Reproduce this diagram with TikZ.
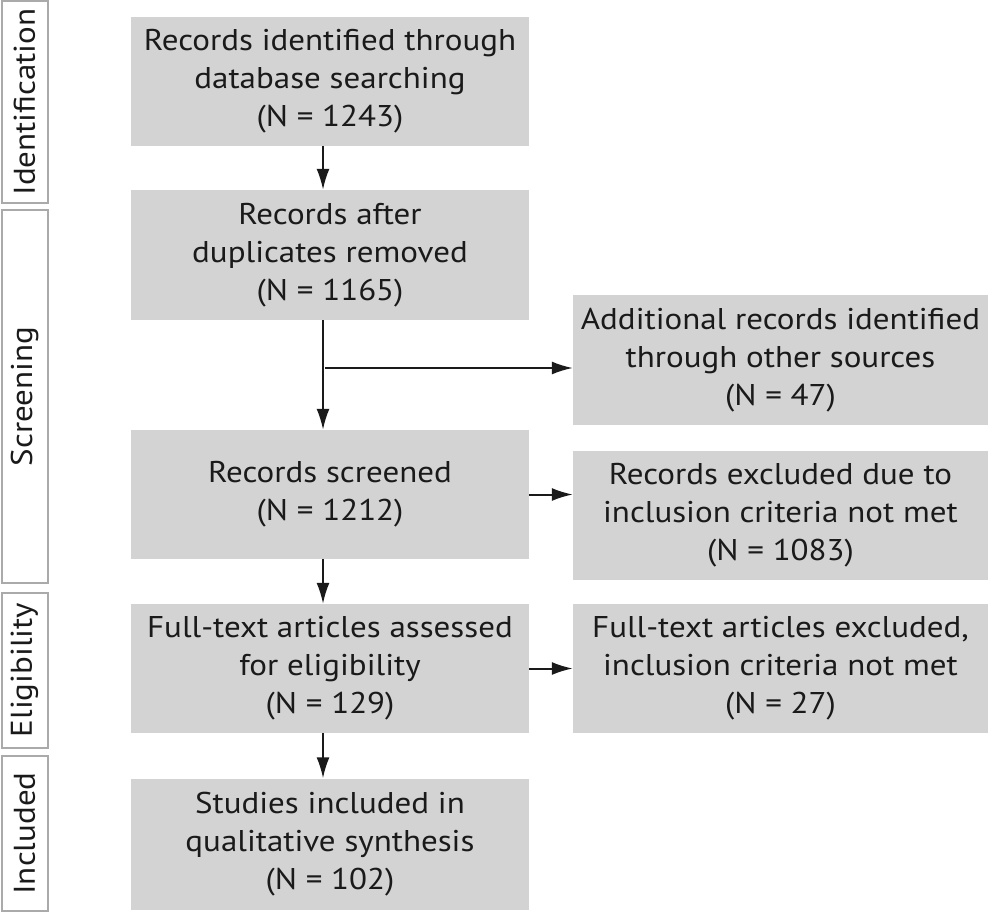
\documentclass[tikz,border=0pt]{standalone}
\usepackage{fontspec}
\setmainfont{PT Sans}[FakeStretch=1.1]
\usetikzlibrary{arrows.meta}
\definecolor{boxgray}{RGB}{211,211,211}
\definecolor{stageedge}{RGB}{170,170,170}
\definecolor{ink}{RGB}{26,26,26}
\tikzset{
  flowbox/.style={fill=boxgray, draw=none, inner sep=0pt, align=center, text=ink,
    font=\fontsize{30pt}{38pt}\selectfont},
  stagebox/.style={draw=stageedge, line width=2pt, fill=white, inner sep=0pt, text=ink,
    font=\fontsize{30pt}{34pt}\selectfont, rotate=90},
  flowarrow/.style={draw=ink, line width=2pt, -{Latex[length=21pt,width=13pt]}},
  flowline/.style={draw=ink, line width=2pt}
}
\begin{document}
\begin{tikzpicture}[x=1pt,y=1pt]
\useasboundingbox (0,0) rectangle (988,-912);
% stage labels
\node[stagebox, minimum width=202pt, minimum height=46pt] (sid) at (24.5,-102) {Identification};
\node[stagebox, minimum width=372pt, minimum height=46pt] (ssc) at (24.5,-396.5) {Screening};
\node[stagebox, minimum width=155pt, minimum height=46pt] (sel) at (24.5,-670) {Eligibility};
\node[stagebox, minimum width=155pt, minimum height=46pt] (sin) at (24.5,-833.5) {Included};
% main column
\node[flowbox, minimum width=398pt, minimum height=129pt] (b1) at (330,-81.5) {Records identified through\\database searching\\(N = 1243)};
\node[flowbox, minimum width=398pt, minimum height=130pt] (b2) at (330,-255) {Records after\\duplicates removed\\(N = 1165)};
\node[flowbox, minimum width=398pt, minimum height=129pt] (b3) at (330,-494.5) {Records screened\\(N = 1212)};
\node[flowbox, minimum width=398pt, minimum height=129pt] (b4) at (330,-668.5) {Full-text articles assessed\\for eligibility\\(N = 129)};
\node[flowbox, minimum width=398pt, minimum height=131pt] (b5) at (330,-844) {Studies included in\\qualitative synthesis\\(N = 102)};
% right column
\node[flowbox, minimum width=415pt, minimum height=130pt] (r1) at (780.5,-360) {Additional records identified\\through other sources\\(N = 47)};
\node[flowbox, minimum width=415pt, minimum height=129pt] (r2) at (780.5,-515.5) {Records excluded due to\\inclusion criteria not met\\(N = 1083)};
\node[flowbox, minimum width=415pt, minimum height=129pt] (r3) at (780.5,-668.5) {Full-text articles excluded,\\inclusion criteria not met\\(N = 27)};
% connectors
\coordinate (c1) at (323,-146);
\coordinate (c2) at (323,-320);
\coordinate (c3) at (323,-559);
\coordinate (c4) at (323,-733);
\coordinate (br) at (325,-368);
\draw[flowarrow] (c1) -- (c1 |- b2.north);
\draw[flowarrow] (c2) -- (c2 |- b3.north);
\draw[flowarrow] (br) -- (br -| r1.west);
\draw[flowarrow] (c3) -- (c3 |- b4.north);
\draw[flowarrow] (c4) -- (c4 |- b5.north);
\coordinate (e3) at (b3.east);
\draw[flowarrow] (e3) -- (e3 -| r2.west);
\draw[flowarrow] (b4.east) -- (r3.west);
\end{tikzpicture}
\end{document}
